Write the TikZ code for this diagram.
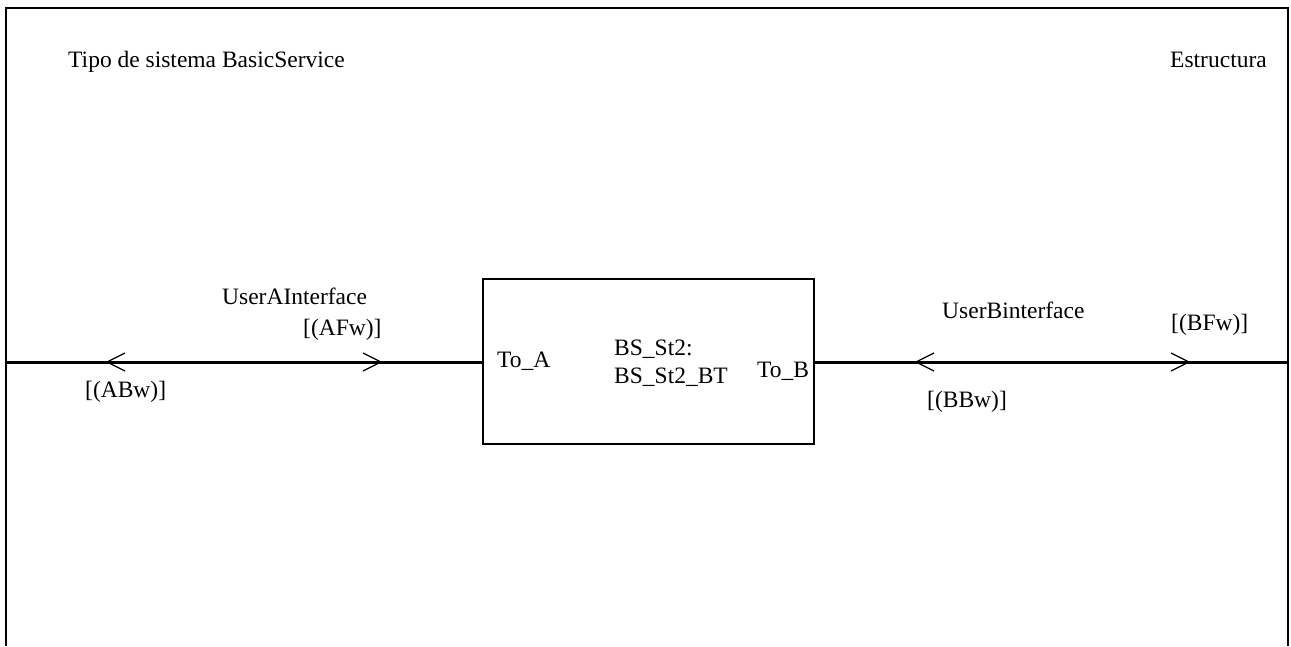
\documentclass[tikz,border=0pt]{standalone}
\usepackage{fontspec}
\setmainfont{Liberation Serif}
\begin{document}
\begin{tikzpicture}[x=1pt,y=-1pt,
  lbl/.style={anchor=base west,inner sep=0pt,font=\fontsize{23.5}{27}\selectfont},
  frameline/.style={line width=2.6pt},
  chan/.style={line width=3pt},
  chev/.style={line width=1.2pt},
  blockbox/.style={draw,line width=2pt,minimum width=331pt,minimum height=165pt,inner sep=0pt}]
\useasboundingbox (0,0) rectangle (1291,646);
% frame (open at bottom)
\draw[frameline] (6,646) -- (6,8) -- (1288,8) -- (1288,646);
\node[lbl] (title) at (68,67) {Tipo de sistema BasicService};
\node[lbl] (kind) at (1170,67) {Estructura};
% block
\node[blockbox] (box) at (648.5,361.5) {};
\node[lbl] (toa) at (497,367) {To\_A};
\node[lbl] (tob) at (757,377) {To\_B};
\node[lbl] (inst1) at (614,355) {BS\_St2:};
\node[lbl] (inst2) at (614,383) {BS\_St2\_BT};
% channel A
\coordinate (aL) at (6,362);
\coordinate (bR) at (1288,362);
\draw[chan] (aL) -- (box.west |- aL);
\draw[chan] (box.east |- bR) -- (bR);
% chevrons channel A
\draw[chev] (125,353) -- (107,362) -- (125,371);
\draw[chev] (363,353) -- (381,362) -- (363,371);
% chevrons channel B
\draw[chev] (934,353) -- (916,362) -- (934,371);
\draw[chev] (1171,353) -- (1189,362) -- (1171,371);
% channel labels
\node[lbl] (ua) at (222,304) {UserAInterface};
\node[lbl] (afw) at (303,335) {[(AFw)]};
\node[lbl] (abw) at (85,397) {[(ABw)]};
\node[lbl] (ub) at (942,318) {UserBinterface};
\node[lbl] (bfw) at (1171,330) {[(BFw)]};
\node[lbl] (bbw) at (927,407) {[(BBw)]};
\end{tikzpicture}
\end{document}
